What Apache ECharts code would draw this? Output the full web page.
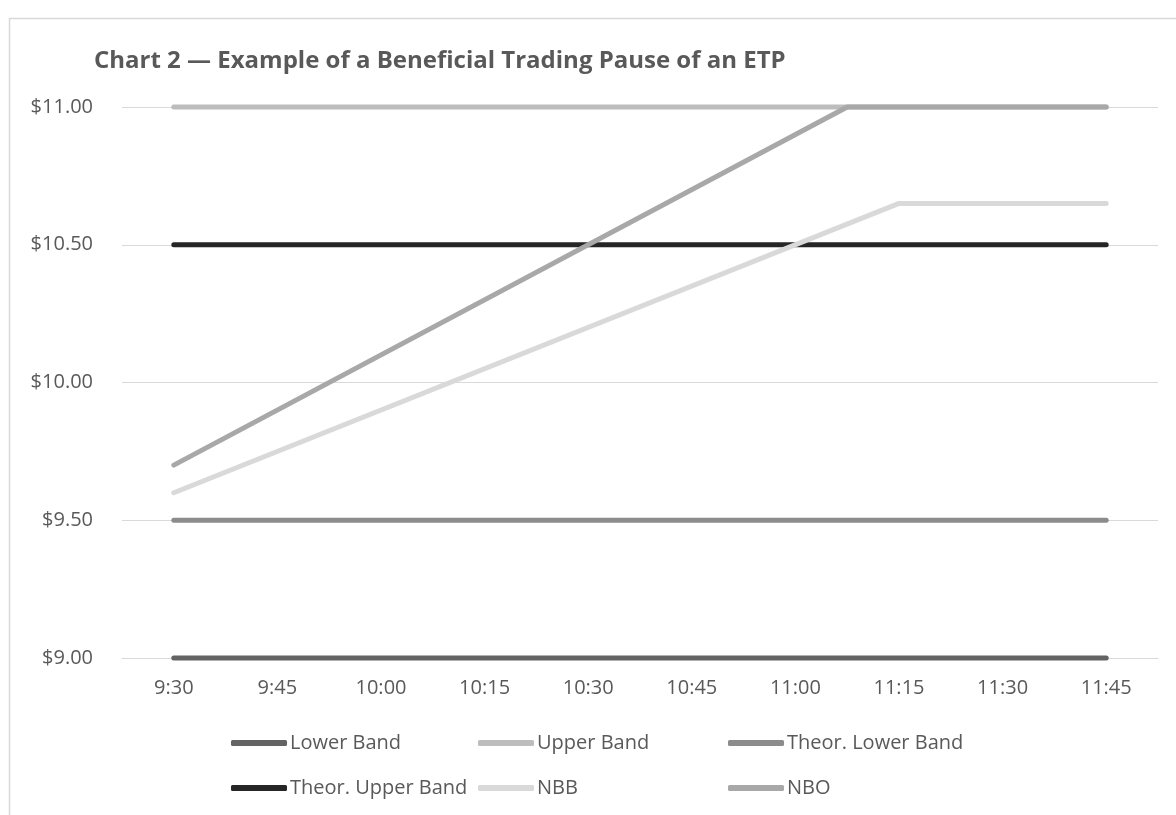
<!DOCTYPE html>
<html>
<head>
<meta charset="utf-8">
<script src="https://cdn.jsdelivr.net/npm/echarts@6/dist/echarts.min.js"></script>
<style>
html,body{margin:0;padding:0;background:#fff;}
#chart{width:1176px;height:815px;}
</style>
</head>
<body>
<div id="chart"></div>
<script>
// Time ticks (minutes after 9:30) and their labels
const tickMinutes = [0, 15, 30, 45, 60, 75, 90, 105, 120, 135];
const tickLabels = ['9:30', '9:45', '10:00', '10:15', '10:30', '10:45', '11:00', '11:15', '11:30', '11:45'];

// Band series (flat over the whole session)
const bandTimes = [0, 135];
const lowerBand = [9.00, 9.00];
const upperBand = [11.00, 11.00];
const theorLowerBand = [9.50, 9.50];
const theorUpperBand = [10.50, 10.50];

// Quotes: read at their start, kink and end points
const nbbTimes = [0, 105, 135];
const nbbValues = [9.60, 10.65, 10.65];
const nboTimes = [0, 97.5, 135];
const nboValues = [9.70, 11.00, 11.00];

const seriesNames = ['Lower Band', 'Upper Band', 'Theor. Lower Band', 'Theor. Upper Band', 'NBB', 'NBO'];
const seriesColors = ['#636363', '#bdbdbd', '#8c8c8c', '#262626', '#d9d9d9', '#a8a8a8'];

function pairs(xs, ys) { return xs.map((x, i) => [x, ys[i]]); }
const seriesData = [
  pairs(bandTimes, lowerBand),
  pairs(bandTimes, upperBand),
  pairs(bandTimes, theorLowerBand),
  pairs(bandTimes, theorUpperBand),
  pairs(nbbTimes, nbbValues),
  pairs(nboTimes, nboValues)
];

const FONT = 'Open Sans';
const TXT = '#595959';

// legend grid: 3 columns x 2 rows
const legendCols = [231, 478, 728];
const legendRows = [733, 778];
const legends = seriesNames.map((name, i) => ({
  left: legendCols[i % 3], top: legendRows[Math.floor(i / 3)],
  orient: 'horizontal', padding: 0,
  itemWidth: 56, itemHeight: 6, itemGap: 5, icon: 'roundRect',
  selectedMode: false,
  data: [name],
  textStyle: {fontFamily: FONT, fontSize: 20, color: TXT, padding: [0, 0, 0, -2]}
}));

const chart = echarts.init(document.getElementById('chart'), null, {renderer: 'canvas'});
chart.setOption({
  animation: false,
  backgroundColor: '#fff',
  graphic: [{
    type: 'rect', silent: true,
    shape: {x: 9.5, y: 18.5, width: 2000, height: 2000},
    style: {fill: 'none', stroke: '#d9d9d9', lineWidth: 1.5}
  }],
  title: {
    text: 'Chart 2 — Example of a Beneficial Trading Pause of an ETP',
    left: 89, top: 44,
    textStyle: {fontFamily: FONT, fontSize: 24, fontWeight: 'bold', color: TXT}
  },
  legend: legends,
  grid: {left: 122, right: 18, top: 107, bottom: 157, containLabel: false},
  xAxis: {
    type: 'value', min: -7.5, max: 142.5,
    axisLine: {show: true, lineStyle: {color: '#d9d9d9', width: 1}},
    axisTick: {show: false},
    splitLine: {show: false},
    axisLabel: {
      customValues: tickMinutes,
      margin: 20,
      fontFamily: FONT, fontSize: 20, color: TXT,
      formatter: function (v) {
        const i = tickMinutes.indexOf(v);
        return i >= 0 ? tickLabels[i] : '';
      }
    }
  },
  yAxis: {
    type: 'value', min: 9, max: 11, interval: 0.5,
    axisLine: {show: false}, axisTick: {show: false},
    splitLine: {lineStyle: {color: '#d9d9d9', width: 1}},
    axisLabel: {
      margin: 29, fontFamily: FONT, fontSize: 20, color: TXT,
      formatter: v => '$' + v.toFixed(2)
    }
  },
  series: seriesNames.map((name, i) => ({
    name: name, type: 'line', data: seriesData[i],
    showSymbol: false, symbol: 'none', clip: false,
    color: seriesColors[i],
    lineStyle: {color: seriesColors[i], width: 5, cap: 'round', join: 'round'},
    itemStyle: {color: seriesColors[i]}
  }))
});
</script>
</body>
</html>
